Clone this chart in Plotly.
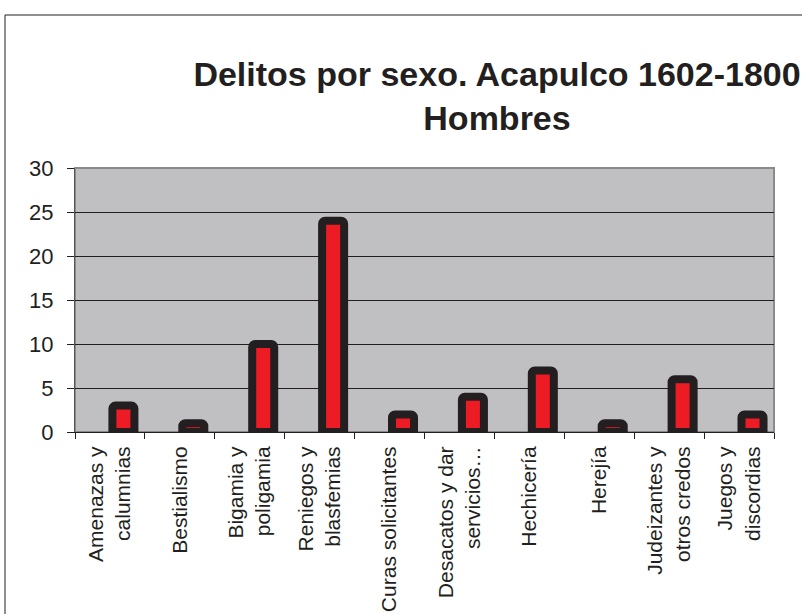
import plotly.graph_objects as go

categories = ["Amenazas y<br>calumnias", "Bestialismo", "Bigamia y<br>poligamia",
              "Reniegos y<br>blasfemias", "Curas solicitantes", "Desacatos y dar<br>servicios…",
              "Hechicería", "Herejía", "Judeizantes y<br>otros credos", "Juegos y<br>discordias"]
values = [3, 1, 10, 24, 2, 4, 7, 1, 6, 2]
y_ticks = [0, 5, 10, 15, 20, 25, 30]

W, H = 802, 614
ml, mr, mt, mb = 75, 28, 168, 182
pw, ph = W - ml - mr, H - mt - mb

def px(x):
    return (x - ml) / pw

def py(y):
    return (H - mb - y) / ph

fig = go.Figure(go.Bar(
    x=categories, y=values,
    marker=dict(color="#ed1c24", line=dict(color="#231f20", width=8), cornerradius=3),
    width=0.315, offset=0.035,
))

fig.update_layout(
    width=W, height=H,
    margin=dict(l=ml, r=mr, t=mt, b=mb),
    paper_bgcolor="white", plot_bgcolor="#c0c0c2",
    font=dict(family="Liberation Sans, Arial, sans-serif", color="#231f20"),
    title=dict(text="<b>Delitos por sexo. Acapulco 1602-1800<br>Hombres</b>",
               xref="container", x=497 / W, xanchor="center", y=1 - 86 / H, yanchor="top",
               font=dict(size=34, color="#231f20")),
    showlegend=False,
)
fig.update_xaxes(
    tickangle=-90, tickfont=dict(size=21), showline=True, linecolor="#231f20", linewidth=1,
    ticks="outside", ticklen=6, tickcolor="#231f20", tickson="boundaries", showgrid=False,
    ticklabelstandoff=5, automargin=False,
)
fig.update_yaxes(
    range=[0, 30], tickvals=y_ticks, tickfont=dict(size=22), showline=True,
    linecolor="#555555", linewidth=1, ticks="outside", ticklen=7, tickcolor="#231f20",
    showgrid=True, gridcolor="#231f20", gridwidth=1, zeroline=False,
    ticklabelstandoff=9, automargin=False,
)
fig.add_shape(type="rect", xref="paper", yref="paper", x0=0, x1=1, y0=0, y1=1,
              line=dict(color="#8a8a8c", width=2), layer="below")
fig.add_shape(type="path", xref="paper", yref="paper",
              path=f"M {px(5)} {py(640)} L {px(5)} {py(15)} L {px(820)} {py(15)}",
              line=dict(color="#231f20", width=1))

fig.write_html("out.html", config={"displayModeBar": False},
               post_script="document.body.style.margin='0';")
